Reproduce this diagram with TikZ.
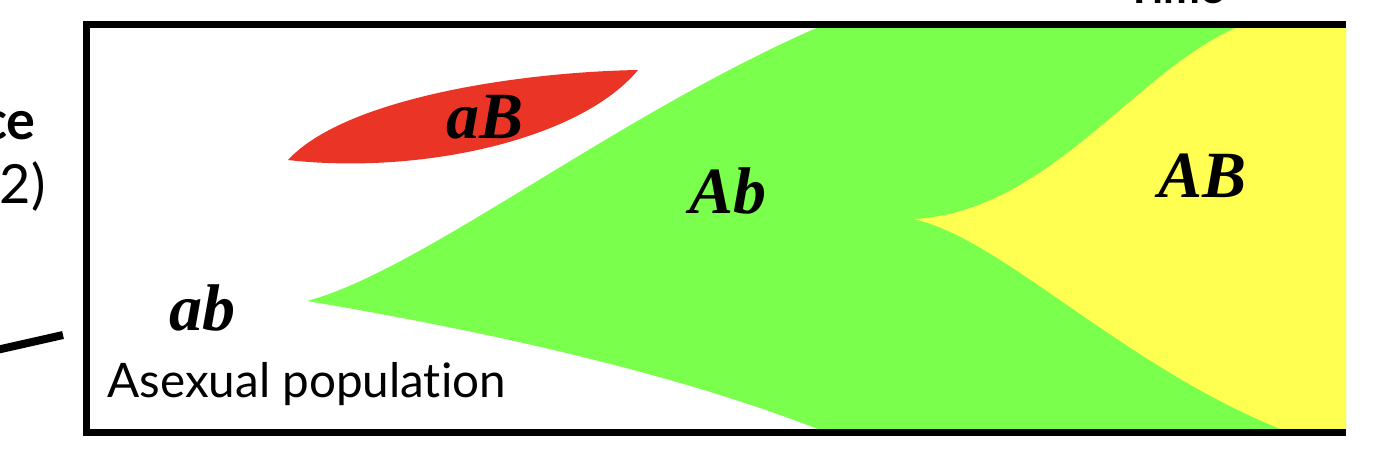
\documentclass[tikz,border=0pt]{standalone}
\usepackage{fontspec}
\setmainfont{Liberation Serif}
\newfontfamily\lato[Ligatures=NoCommon]{Lato}
\definecolor{abred}{RGB}{234,53,38}
\definecolor{abgreen}{RGB}{122,255,77}
\definecolor{abyellow}{RGB}{255,255,82}
\begin{document}
\begin{tikzpicture}[x=0.5pt,y=-0.5pt,
  geno/.style={font=\fontsize{33}{33}\selectfont\bfseries\itshape, inner sep=0pt, anchor=base},
  sidetxt/.style={font=\lato\fontsize{27}{27}\selectfont, inner sep=0pt},
  sidebold/.style={font=\lato\bfseries\fontsize{27}{27}\selectfont, inner sep=0pt},
  asextxt/.style={font=\lato\fontsize{23.8}{23.8}\selectfont, inner sep=0pt},
  frame/.style={line width=3.5pt, line join=miter},
  ]
\useasboundingbox (0,0) rectangle (1390,462);
\begin{scope}
\clip (90,28) rectangle (1346,428);
% Ab (green)
\fill[abgreen] (307,301) .. controls (430,268) and (640,95) .. (860,10)
  -- (1400,10) -- (1400,450) -- (845,440)
  .. controls (690,375) and (480,330) .. (307,301) -- cycle;
% aB (red)
\fill[abred] (288,160) .. controls (345,98) and (520,72) .. (638,70)
  .. controls (580,140) and (420,175) .. (288,160) -- cycle;
% AB (yellow)
\fill[abyellow] (913,219) .. controls (1060,212) and (1150,45) .. (1265,18)
  -- (1400,18) -- (1400,445) -- (1310,440)
  .. controls (1135,380) and (1005,238) .. (913,219) -- cycle;
\end{scope}
% frame
\draw[frame] (1346,24) -- (86.5,24) -- (86.5,432) -- (1346,432);
% labels
\node[geno] (ab) at (202,330) {ab};
\node[geno] (aB) at (485,138) {aB};
\node[geno] (Ab) at (728,213) {Ab};
\node[geno] (AB) at (1202,197) {AB};
\node[asextxt, anchor=base west] (asex) at (107,397) {Asexual population};
\node[sidebold, anchor=base east] (ce) at (36,139) {ce};
\node[sidetxt, anchor=base east] (two) at (46,203) {2)};
\node[font=\lato\bfseries\fontsize{22}{22}\selectfont, anchor=base, inner sep=0pt] (time) at (1175,3) {Time};
% partial axis line
\coordinate (lineA) at (-30,356);
\coordinate (lineB) at (63,335);
\draw[line width=4pt] (lineA) -- (lineB);
\end{tikzpicture}
\end{document}
